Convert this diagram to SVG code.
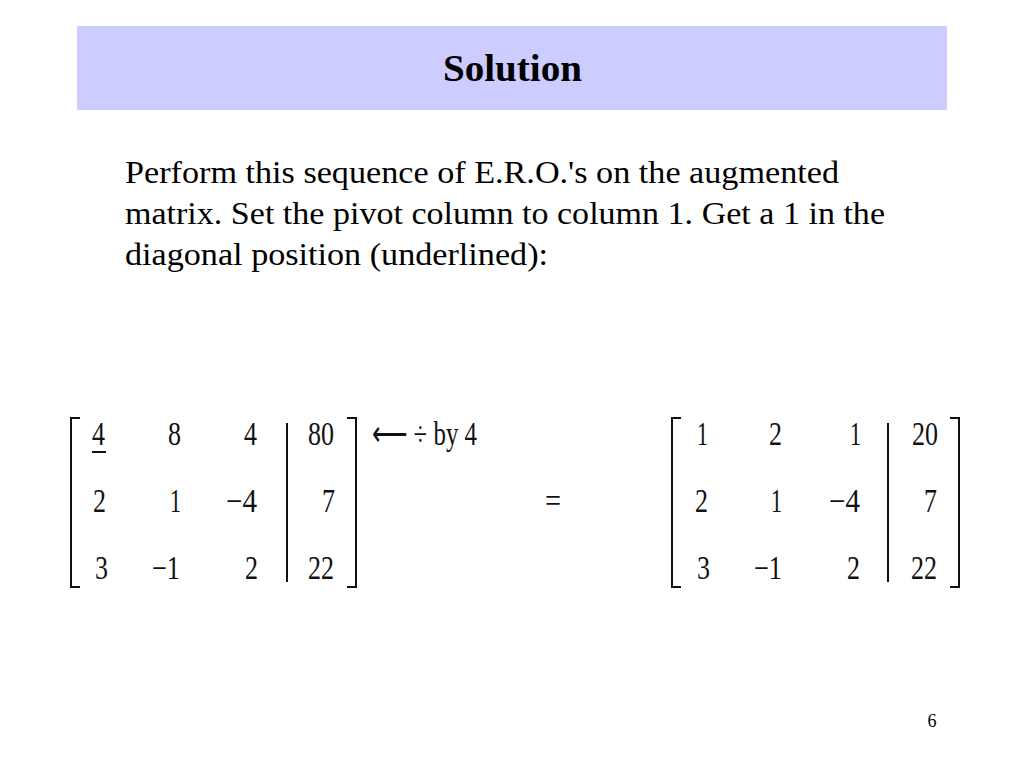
<svg xmlns="http://www.w3.org/2000/svg" width="1024" height="768" viewBox="0 0 1024 768">
<style>
.title{font-family:"Liberation Serif","Times New Roman",serif;font-size:37px;font-weight:bold;fill:#000}
.body{font-family:"Liberation Serif","Times New Roman",serif;font-size:31px;fill:#000}
.m{font-family:"Liberation Serif","Times New Roman",serif;font-size:33px;fill:#111}
.r{text-anchor:end}
.c{text-anchor:middle}
.br{fill:none;stroke:#111;stroke-width:2}
.pg{font-family:"Liberation Serif","Times New Roman",serif;font-size:18px;fill:#000}
</style>
<rect width="1024" height="768" fill="#fff"/>
<g id="header">
<rect x="77" y="26" width="870" height="84" fill="#ccccff"/>
<text class="title" x="443" y="81" textLength="139" lengthAdjust="spacingAndGlyphs">Solution</text>
</g>
<g id="paragraph">
<text class="body" x="125" y="183" textLength="714" lengthAdjust="spacingAndGlyphs">Perform this sequence of E.R.O.'s on the augmented</text>
<text class="body" x="125" y="224" textLength="760" lengthAdjust="spacingAndGlyphs">matrix. Set the pivot column to column 1. Get a 1 in the</text>
<text class="body" x="125" y="265" textLength="423" lengthAdjust="spacingAndGlyphs">diagonal position (underlined):</text>
</g>
<g id="matrix1">
<path class="br" d="M80,418 H71 V587 H80"/>
<path class="br" d="M347,418 H356 V587 H347"/>
<line class="br" x1="287" y1="423" x2="287" y2="582"/>
<text class="m" x="92" y="445" textLength="13" lengthAdjust="spacingAndGlyphs">4</text>
<line x1="92" y1="452" x2="106" y2="452" stroke="#111" stroke-width="2"/>
<text class="m" x="168" y="445" textLength="13" lengthAdjust="spacingAndGlyphs">8</text>
<text class="m" x="244" y="445" textLength="13" lengthAdjust="spacingAndGlyphs">4</text>
<text class="m" x="308" y="445" textLength="26" lengthAdjust="spacingAndGlyphs">80</text>
<text class="m" x="93" y="512" textLength="13" lengthAdjust="spacingAndGlyphs">2</text>
<text class="m" x="170" y="512" textLength="11" lengthAdjust="spacingAndGlyphs">1</text>
<text class="m" x="226" y="512" textLength="31" lengthAdjust="spacingAndGlyphs">−4</text>
<text class="m" x="322" y="512" textLength="13" lengthAdjust="spacingAndGlyphs">7</text>
<text class="m" x="95" y="579" textLength="13" lengthAdjust="spacingAndGlyphs">3</text>
<text class="m" x="152" y="579" textLength="28" lengthAdjust="spacingAndGlyphs">−1</text>
<text class="m" x="245" y="579" textLength="13" lengthAdjust="spacingAndGlyphs">2</text>
<text class="m" x="308" y="579" textLength="26" lengthAdjust="spacingAndGlyphs">22</text>
</g>
<g id="operation">
<text class="m" x="372" y="445" textLength="105" lengthAdjust="spacingAndGlyphs">⟵ ÷ by 4</text>
</g>
<g id="equals">
<text class="m" x="545" y="512" textLength="16" lengthAdjust="spacingAndGlyphs">=</text>
</g>
<g id="matrix2">
<path class="br" d="M681,418 H672 V587 H681"/>
<path class="br" d="M950,418 H959 V587 H950"/>
<line class="br" x1="888" y1="423" x2="888" y2="582"/>
<text class="m" x="697" y="445" textLength="11" lengthAdjust="spacingAndGlyphs">1</text>
<text class="m" x="769" y="445" textLength="13" lengthAdjust="spacingAndGlyphs">2</text>
<text class="m" x="850" y="445" textLength="11" lengthAdjust="spacingAndGlyphs">1</text>
<text class="m" x="912" y="445" textLength="26" lengthAdjust="spacingAndGlyphs">20</text>
<text class="m" x="695" y="512" textLength="13" lengthAdjust="spacingAndGlyphs">2</text>
<text class="m" x="771" y="512" textLength="11" lengthAdjust="spacingAndGlyphs">1</text>
<text class="m" x="829" y="512" textLength="31" lengthAdjust="spacingAndGlyphs">−4</text>
<text class="m" x="924" y="512" textLength="13" lengthAdjust="spacingAndGlyphs">7</text>
<text class="m" x="697" y="579" textLength="13" lengthAdjust="spacingAndGlyphs">3</text>
<text class="m" x="754" y="579" textLength="28" lengthAdjust="spacingAndGlyphs">−1</text>
<text class="m" x="847" y="579" textLength="13" lengthAdjust="spacingAndGlyphs">2</text>
<text class="m" x="911" y="579" textLength="26" lengthAdjust="spacingAndGlyphs">22</text>
</g>
<text class="pg" x="932" y="727" text-anchor="middle">6</text>
</svg>
